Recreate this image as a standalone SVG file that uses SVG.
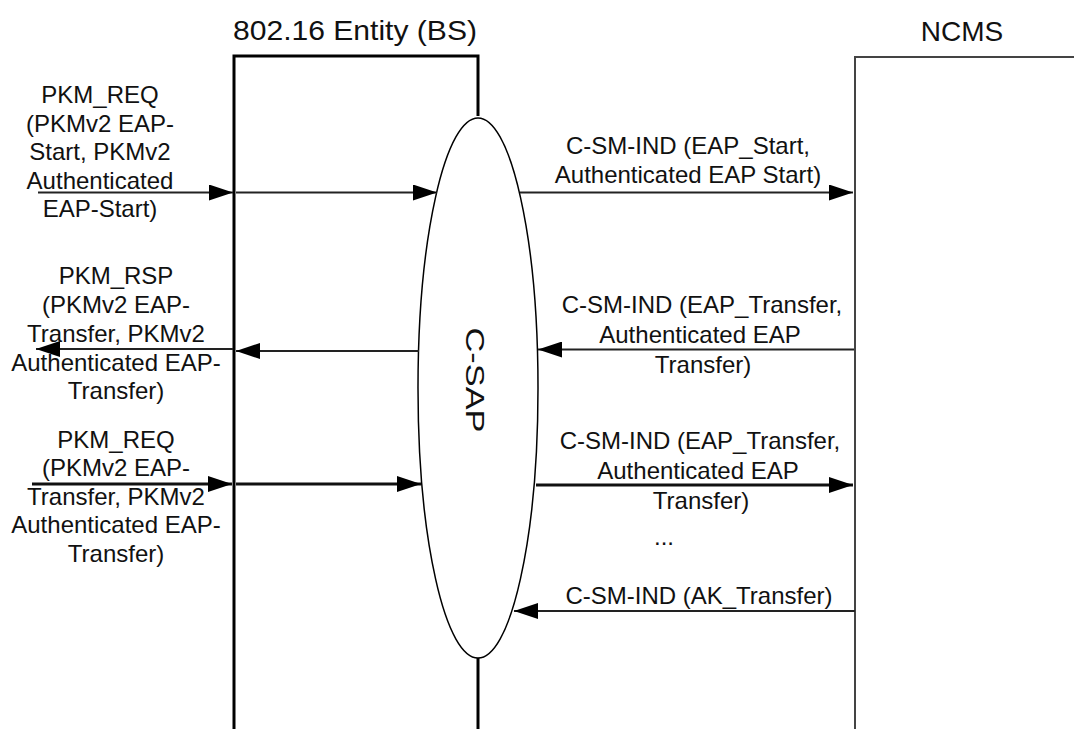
<svg xmlns="http://www.w3.org/2000/svg" width="1074" height="729" viewBox="0 0 1074 729">
<style>
text{font-family:"Liberation Sans",Arial,sans-serif;fill:#111}
.lbl{font-size:24px;text-anchor:middle}
.ttl{font-size:28px;text-anchor:middle}
.a{stroke:#222;stroke-width:2;fill:none;marker-end:url(#ah)}
.a3{stroke:#111;stroke-width:3;fill:none;marker-end:url(#ah)}
</style>
<defs>
<marker id="ah" markerUnits="userSpaceOnUse" markerWidth="24" markerHeight="16" refX="24" refY="8" orient="auto">
<path d="M0,0 L24,8 L0,16 z" fill="#000"/>
</marker>
</defs>
<rect width="1074" height="729" fill="#fff"/>
<g id="bs">
<path d="M234,729 V56 H478 V116" fill="none" stroke="#000" stroke-width="3"/>
<line x1="478" y1="658" x2="478" y2="729" stroke="#000" stroke-width="3"/>
<text class="ttl" x="355" y="39.5" textLength="244" lengthAdjust="spacingAndGlyphs">802.16 Entity (BS)</text>
</g>
<g id="ncms">
<path d="M1074,57 H855 V729" fill="none" stroke="#444" stroke-width="2"/>
<text class="ttl" x="962" y="40.5">NCMS</text>
</g>
<g id="csap">
<ellipse cx="478" cy="388" rx="60" ry="270" fill="none" stroke="#000" stroke-width="1.5"/>
<text class="lbl" style="font-size:26px" transform="translate(466,380) rotate(90)" x="0" y="0" textLength="105" lengthAdjust="spacingAndGlyphs">C-SAP</text>
</g>
<g id="connectors">
<line class="a" x1="38" y1="192.5" x2="233" y2="192.5"/>
<line class="a" x1="236" y1="192.5" x2="437" y2="192.5"/>
<line class="a" x1="520" y1="192.5" x2="853" y2="192.5"/>
<line class="a" x1="854" y1="349.5" x2="538" y2="349.5"/>
<line class="a" x1="419" y1="351" x2="236" y2="351"/>
<line class="a" x1="233" y1="349" x2="36" y2="349"/>
<line class="a3" x1="32" y1="484" x2="232" y2="484"/>
<line class="a3" x1="236" y1="484" x2="421" y2="484"/>
<line class="a3" x1="536" y1="485" x2="853" y2="485"/>
<line class="a" x1="855" y1="611" x2="514" y2="611"/>
</g>
<g id="labels">
<text class="lbl"><tspan x="100" y="102.5">PKM_REQ</tspan><tspan x="100" y="131.5">(PKMv2 EAP-</tspan><tspan x="100" y="160">Start, PKMv2</tspan><tspan x="100" y="188.5">Authenticated</tspan><tspan x="100" y="216.5">EAP-Start)</tspan></text>
<text class="lbl"><tspan x="116" y="284">PKM_RSP</tspan><tspan x="116" y="313">(PKMv2 EAP-</tspan><tspan x="116" y="341.7">Transfer, PKMv2</tspan><tspan x="116" y="370.5">Authenticated EAP-</tspan><tspan x="116" y="398.5">Transfer)</tspan></text>
<text class="lbl"><tspan x="116" y="447.5">PKM_REQ</tspan><tspan x="116" y="475.5">(PKMv2 EAP-</tspan><tspan x="116" y="504.5">Transfer, PKMv2</tspan><tspan x="116" y="533">Authenticated EAP-</tspan><tspan x="116" y="561.7">Transfer)</tspan></text>
<text class="lbl"><tspan x="688" y="154">C-SM-IND (EAP_Start,</tspan><tspan x="688" y="183.3">Authenticated EAP Start)</tspan></text>
<text class="lbl"><tspan x="702" y="312.7">C-SM-IND (EAP_Transfer,</tspan><tspan x="700" y="343.3">Authenticated EAP</tspan><tspan x="703" y="373">Transfer)</tspan></text>
<text class="lbl"><tspan x="700" y="448.5">C-SM-IND (EAP_Transfer,</tspan><tspan x="698" y="479">Authenticated EAP</tspan><tspan x="701" y="508.5">Transfer)</tspan></text>
<text class="lbl" x="664" y="545">...</text>
<text class="lbl" x="699" y="604">C-SM-IND (AK_Transfer)</text>
</g>
</svg>
